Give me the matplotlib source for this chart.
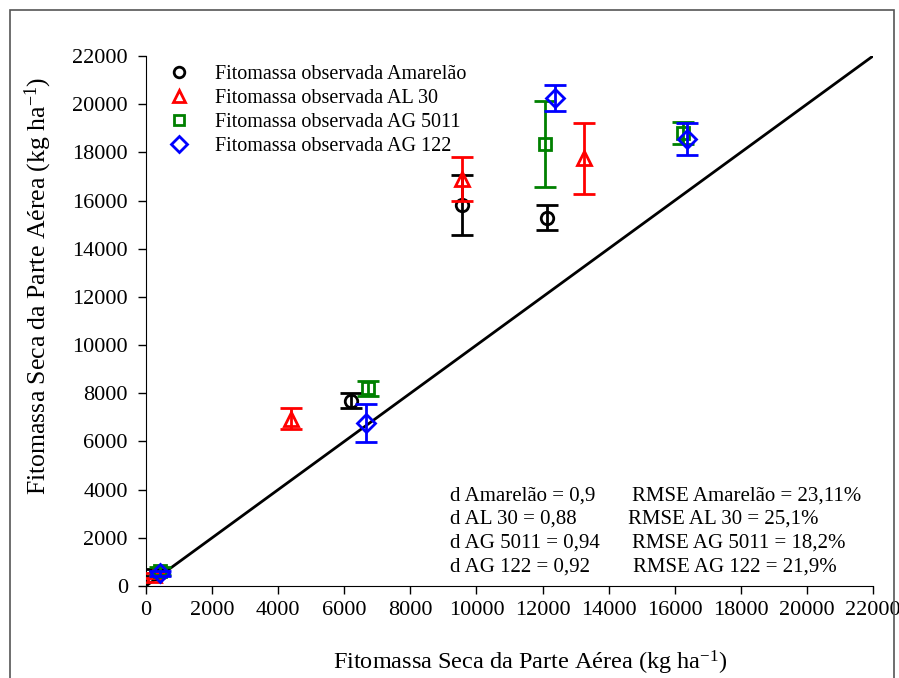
import matplotlib
matplotlib.use("Agg")
import matplotlib.pyplot as plt
from matplotlib.patches import Rectangle
from matplotlib.lines import Line2D

plt.rcParams['font.family'] = ['Liberation Serif', 'DejaVu Serif']
plt.rcParams['mathtext.fontset'] = 'custom'
plt.rcParams['mathtext.rm'] = 'Liberation Serif'
plt.rcParams['mathtext.it'] = 'Liberation Serif:italic'

# simulated (x) vs observed (y) dry matter, kg/ha
amarelao_x = [300, 6200, 9560, 12130]
amarelao_y = [550, 7700, 15800, 15280]
amarelao_err = [150, 300, 1250, 520]

al30_x = [250, 4400, 9560, 13250]
al30_y = [450, 6950, 16900, 17750]
al30_err = [100, 450, 900, 1470]

ag5011_x = [420, 6720, 12080, 16260]
ag5011_y = [620, 8200, 18350, 18800]
ag5011_err = [150, 300, 1800, 450]

ag122_x = [420, 6660, 12370, 16370]
ag122_y = [520, 6770, 20260, 18560]
ag122_err = [100, 800, 530, 660]

labels = ["Fitomassa observada Amarelão", "Fitomassa observada AL 30",
          "Fitomassa observada AG 5011", "Fitomassa observada AG 122"]
stats_d = ["d Amarelão = 0,9", "d AL 30 = 0,88", "d AG 5011 = 0,94", "d AG 122 = 0,92"]
stats_rmse = ["RMSE Amarelão = 23,11%", "RMSE AL 30 = 25,1%",
              "RMSE AG 5011 = 18,2%", "RMSE AG 122 = 21,9%"]
ticks = list(range(0, 22001, 2000))

W, H = 899, 678
fig = plt.figure(figsize=(W/100, H/100), dpi=100)
ax = fig.add_axes([146/W, 1-586/H, (873-146)/W, (586-56)/H])

ax.plot([0, 22000], [0, 22000], color='black', lw=2, zorder=1)

series = [
    (amarelao_x, amarelao_y, amarelao_err, 'o', 'black'),
    (al30_x, al30_y, al30_err, '^', 'red'),
    (ag5011_x, ag5011_y, ag5011_err, 's', 'green'),
    (ag122_x, ag122_y, ag122_err, 'D', 'blue'),
]
sizes = {'o': 9, '^': 10, 's': 8.5, 'D': 9}
for i, (x, y, e, m, c) in enumerate(series):
    ax.errorbar(x, y, yerr=e, fmt=m, mfc='none', mec=c, mew=2,
                ms=sizes[m], ecolor=c, elinewidth=2, capsize=8, capthick=2,
                color=c, zorder=2+i)

leg_handles = [Line2D([], [], ls='none', marker=m, mfc='none', mec=c, mew=2, ms=sizes[m]*0.85)
               for (_, _, _, m, c) in series]
ax.legend(leg_handles, labels, loc='upper left', bbox_to_anchor=(0.012, 0.998),
          frameon=False, fontsize=14.5, handletextpad=1.0, labelspacing=0.24,
          borderaxespad=0, handlelength=1.6)

ax.set_xlim(0, 22000)
ax.set_ylim(0, 22000)
ax.set_xticks(ticks)
ax.set_yticks(ticks)
ax.tick_params(direction='out', length=6, width=1, labelsize=16)
ax.tick_params(axis='y', pad=7)
ax.tick_params(axis='x', pad=5)
for s in ['top', 'right']:
    ax.spines[s].set_visible(False)

ax.set_xlabel('Fitomassa Seca da Parte Aérea (kg ha$^{-1}$)', fontsize=17.5)
ax.set_ylabel('Fitomassa Seca da Parte Aérea (kg ha$^{-1}$)', fontsize=18.5)
ax.xaxis.set_label_coords((530-146)/727, (586-649)/530)
ax.yaxis.set_label_coords((54-146)/727, (586-286)/530)

ys = [496, 519, 543, 567]
xr = [632, 628, 632, 633]
for i in range(4):
    fig.text(450/W, 1-ys[i]/H, stats_d[i], fontsize=15, va='center', ha='left')
    fig.text(xr[i]/W, 1-ys[i]/H, stats_rmse[i], fontsize=15, va='center', ha='left')

fig.patches.append(Rectangle((10/W, -0.1), (894-10)/W, 1.1-10/H,
                             transform=fig.transFigure, fill=False,
                             edgecolor='#555555', lw=1.2, clip_on=False))

fig.savefig('out.png', dpi=100)
